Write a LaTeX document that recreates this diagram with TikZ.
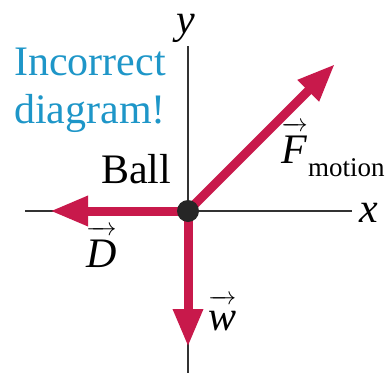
\documentclass[tikz,border=0pt]{standalone}
\usepackage{fontspec}
\setmainfont{Liberation Serif}
\usetikzlibrary{arrows.meta}
\definecolor{forcered}{HTML}{C8194B}
\definecolor{notecyan}{HTML}{1E96C8}
\begin{document}
\begin{tikzpicture}[x=1pt,y=-1pt,
  axis/.style={draw=black!80,line width=1.2pt},
  force/.style={draw=forcered,line width=9pt,-{Triangle[length=38pt,width=28pt]}},
  lbl/.style={inner sep=0pt,anchor=base west},
  big/.style={font=\fontsize{42}{48}\selectfont}]
\useasboundingbox (0,0) rectangle (388,375);
% axes
\coordinate (xl) at (25,211);
\coordinate (xr) at (352,211);
\coordinate (yt) at (188,46);
\coordinate (yb) at (188,373);
\draw[axis] (xl) -- (xr);
\draw[axis] (yt) -- (yb);
\node[lbl,big,anchor=base] (xlab) at (369,222) {\itshape x};
\node[lbl,big,anchor=base] (ylab) at (186,33) {\itshape y};
% ball and forces
\coordinate (c) at (188,211);
\coordinate (Dtip) at (50,211);
\coordinate (wtip) at (188,347);
\coordinate (Ftip) at (335,64);
\draw[force] (c) -- (Dtip);
\draw[force] (c) -- (wtip);
\draw[force] (c) -- (Ftip);
\node[circle,fill=black!85,minimum size=22pt,inner sep=0pt] (ball) at (c) {};
% labels
\node[lbl,big,text=notecyan] (inc) at (14,75) {Incorrect};
\node[lbl,big,text=notecyan] (diag) at (14,123) {diagram!};
\node[lbl,big] (balllab) at (101,183) {Ball};
\node[lbl,big] (Flab) at (281,163) {$\overrightarrow{\hbox{\itshape F\kern1pt\rule{0pt}{33pt}}}$};
\node[lbl,font=\fontsize{27}{30}\selectfont] (motion) at (308,176) {motion};
\node[lbl,big] (Dlab) at (86,267) {$\overrightarrow{\hbox{\itshape D\rule{0pt}{33pt}}}$};
\node[lbl,big] (wlab) at (208,330) {$\overrightarrow{\hbox{\itshape w\rule{0pt}{27pt}}}$};
\end{tikzpicture}
\end{document}
